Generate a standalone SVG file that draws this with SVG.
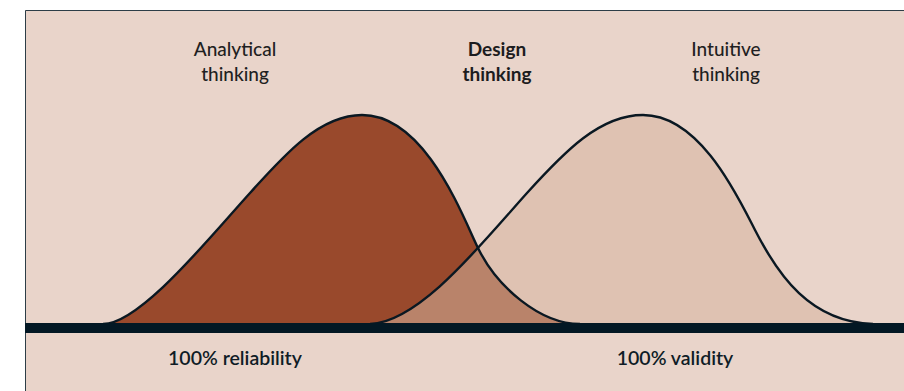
<svg xmlns="http://www.w3.org/2000/svg" width="904" height="391" viewBox="0 0 904 391">
  <style>
    .lbl { font-family: Lato, "Open Sans", "Liberation Sans", sans-serif; font-size: 19px; fill: #1f1f22; text-anchor: middle; font-weight: 500; }
    .bold { font-weight: bold; fill: #1c1c20; }
    .axis { font-family: Lato, "Open Sans", "Liberation Sans", sans-serif; font-size: 19.5px; fill: #0f1c26; text-anchor: middle; font-weight: 600; }
    .edge { fill: none; stroke: #0a1822; stroke-width: 2.4; stroke-linejoin: round; }
  </style>
  <defs>
    <path id="shapeA" d="M103,324 C140,324 210,237 250,193 C285,154 320,115 362,115 C425,115 462,215 478,248 C497,287 540,324 580,324 L580,330 L103,330 Z"/>
    <path id="shapeI" d="M370,324 C420,322 482,243 527,193 C565,151 600,115 643,115 C700,115 738,197 755,230 C778,275 810,322 873,324 L873,330 L370,330 Z"/>
    <clipPath id="clipI"><use href="#shapeI"/></clipPath>
  </defs>
  <rect x="0" y="0" width="904" height="391" fill="#ffffff"/>
  <g id="frame">
    <rect x="25" y="10" width="879" height="381" fill="#e9d4ca"/>
    <path d="M25.5,391 V10.5 H904" fill="none" stroke="#2d3d47" stroke-width="1"/>
  </g>
  <g id="analytical-curve">
    <use href="#shapeA" fill="#99492c"/>
  </g>
  <g id="intuitive-curve">
    <use href="#shapeI" fill="#dfc2b2"/>
  </g>
  <g id="design-overlap">
    <use href="#shapeA" fill="#b9836a" clip-path="url(#clipI)"/>
  </g>
  <g id="connectors">
    <path class="edge" d="M103,324 C140,324 210,237 250,193 C285,154 320,115 362,115 C425,115 462,215 478,248 C497,287 540,324 580,324"/>
    <path class="edge" d="M370,324 C420,322 482,243 527,193 C565,151 600,115 643,115 C700,115 738,197 755,230 C778,275 810,322 873,324"/>
    <rect x="25" y="323" width="879" height="10" fill="#031824"/>
  </g>
  <g id="label-analytical">
    <text class="lbl" x="235" y="56">Analytical</text>
    <text class="lbl" x="235" y="81">thinking</text>
  </g>
  <g id="label-design">
    <text class="lbl bold" x="497" y="56">Design</text>
    <text class="lbl bold" x="497" y="81">thinking</text>
  </g>
  <g id="label-intuitive">
    <text class="lbl" x="726" y="56">Intuitive</text>
    <text class="lbl" x="726" y="81">thinking</text>
  </g>
  <g id="label-reliability">
    <text class="axis" x="235" y="365">100% reliability</text>
  </g>
  <g id="label-validity">
    <text class="axis" x="675" y="365">100% validity</text>
  </g>
</svg>
